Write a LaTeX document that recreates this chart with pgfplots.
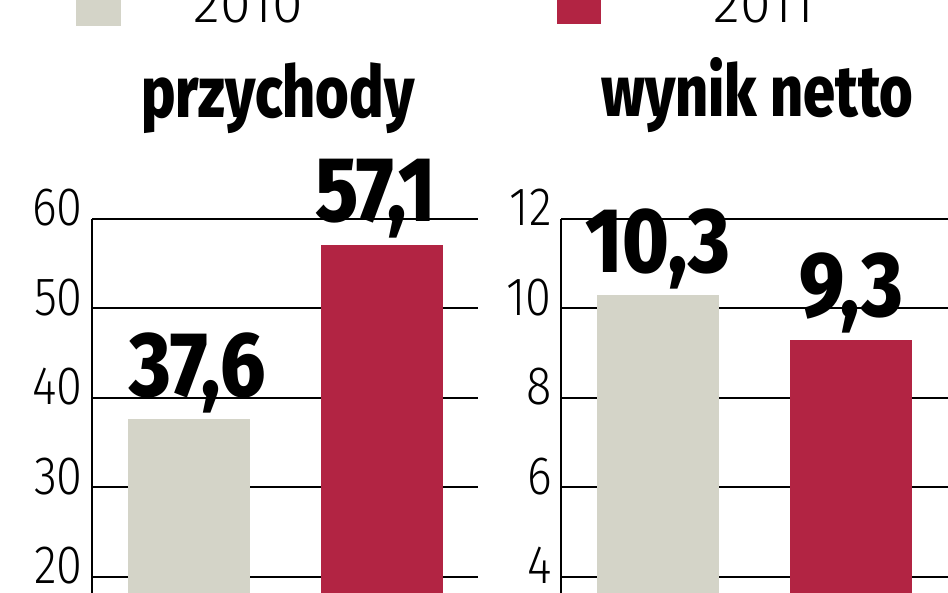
\documentclass[border=0pt]{standalone}
\usepackage{pgfplots}
\pgfplotsset{compat=1.18}
\usepackage{fontspec}
\setmainfont{Fira Sans}
\newfontfamily\tickfont{Fira Sans Light}[FakeStretch=0.87]
\newfontfamily\legfont{Fira Sans Light}[FakeStretch=1.03]
\newfontfamily\heavyfont{Fira Sans ExtraBold}[FakeStretch=0.86]
\newfontfamily\titlefont{Fira Sans ExtraBold}[FakeStretch=0.8]

\definecolor{grey10}{RGB}{212,212,200}
\definecolor{red11}{RGB}{178,36,67}

\pgfplotsset{
  panel/.style={
    scale only axis,
    anchor=north west,
    xmin=0, xmax=1,
    axis x line=none,
    axis y line*=left,
    axis line style={black, line width=2pt},
    ymajorgrids,
    grid style={black, line width=2pt},
    major tick length=0pt,
    clip=false,
    /pgf/number format/assume math mode=true,
    yticklabel style={font=\tickfont\fontsize{54}{54}\selectfont, anchor=base east,
      inner sep=0pt, xshift=-9pt, yshift=-7pt},
    every axis title/.style={at={(0.5,1)}, anchor=base, inner sep=0pt,
      font=\titlefont\fontsize{72}{72}\selectfont},
  },
  bars/.style={
    ybar, bar width=122pt, bar shift=0pt, draw=none, fill=#1,
    nodes near coords={\pgfmathprintnumber[use comma,fixed,fixed zerofill,precision=1,assume math mode=true]{\pgfplotspointmeta}},
    every node near coord/.append style={font=\heavyfont\fontsize{92}{92}\selectfont,
      anchor=base, inner sep=0pt, yshift=23pt, text=black},
  },
}

\begin{document}
\begin{tikzpicture}
\useasboundingbox (0pt,0pt) rectangle (948pt,-593pt);
\clip (0pt,0pt) rectangle (948pt,-593pt);

% legend
\fill[grey10] (76pt,20pt) rectangle (121pt,-26pt);
\node[font=\legfont\fontsize{54}{54}\selectfont, anchor=base, inner sep=0pt] at (248.5pt,-23pt) {2010};
\fill[red11] (557pt,20pt) rectangle (601pt,-24pt);
\node[font=\legfont\fontsize{54}{54}\selectfont, anchor=base, inner sep=0pt] at (764pt,-23pt) {2011};

% przychody
\begin{axis}[panel,
  at={(92pt,-219pt)}, width=386pt, height=375.9pt,
  ymin=18, ymax=60, ytick={20,30,40,50,60},
  title={przychody},
  title style={yshift=101pt, xshift=-7pt},
]
\addplot[bars=grey10, every node near coord/.append style={xshift=9pt}] coordinates {(0.25,37.6)};
\addplot[bars=red11, every node near coord/.append style={xshift=-6pt}] coordinates {(0.75,57.1)};
\end{axis}

% wynik netto
\begin{axis}[panel,
  at={(561pt,-219pt)}, width=387pt, height=375.9pt,
  ymin=3.6, ymax=12, ytick={4,6,8,10,12},
  title={wynik netto},
  title style={yshift=102pt, xshift=3pt},
]
\addplot[bars=grey10] coordinates {(0.25,10.3)};
\addplot[bars=red11] coordinates {(0.75,9.3)};
\end{axis}
\end{tikzpicture}
\end{document}
